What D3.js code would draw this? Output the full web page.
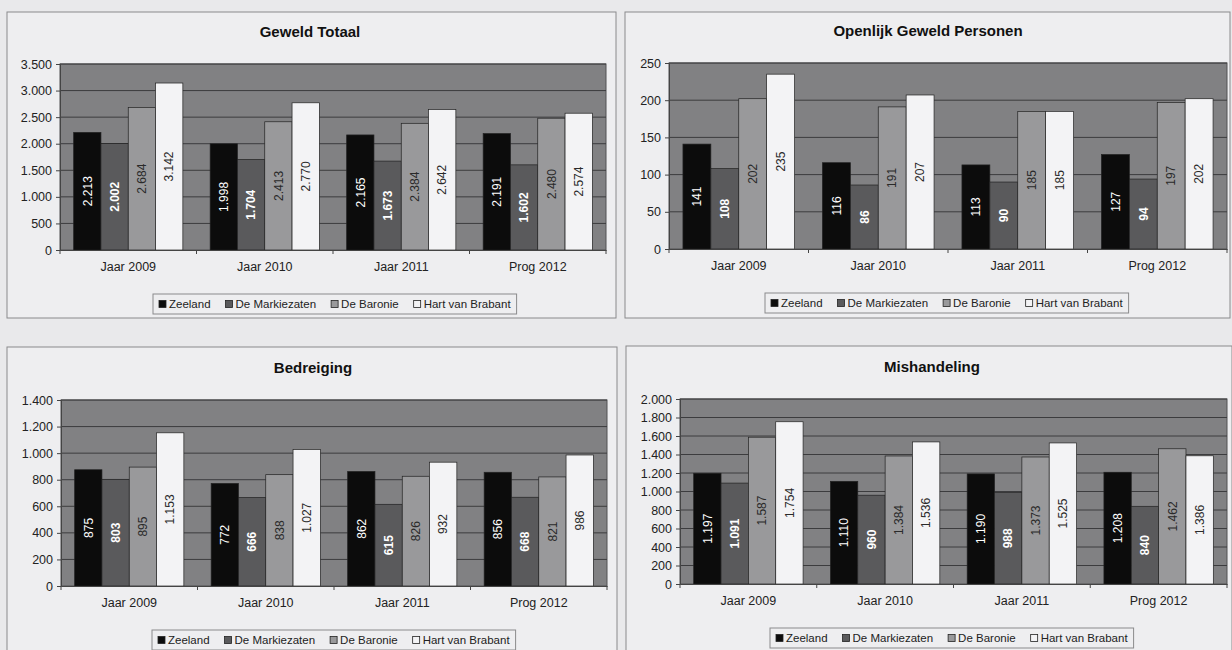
<!DOCTYPE html>
<html>
<head>
<meta charset="utf-8">
<script src="https://cdn.jsdelivr.net/npm/d3@7"></script>
<style>
  body { margin: 0; background: #e9e9eb; }
  svg { display: block; font-family: "Liberation Sans", Arial, sans-serif; }
</style>
</head>
<body>
<svg id="chart" width="1232" height="650"></svg>
<script>
// categories and series
const categories = ["Jaar 2009", "Jaar 2010", "Jaar 2011", "Prog 2012"];
const seriesNames = ["Zeeland", "De Markiezaten", "De Baronie", "Hart van Brabant"];

// one row per series (Zeeland, Markiezaten, Baronie, Hart van Brabant)
const geweldTotaal = [
    [2213, 1998, 2165, 2191],
    [2002, 1704, 1673, 1602],
    [2684, 2413, 2384, 2480],
    [3142, 2770, 2642, 2574]
];
const openlijkGeweld = [
    [141, 116, 113, 127],
    [108, 86, 90, 94],
    [202, 191, 185, 197],
    [235, 207, 185, 202]
];
const bedreiging = [
    [875, 772, 862, 856],
    [803, 666, 615, 668],
    [895, 838, 826, 821],
    [1153, 1027, 932, 986]
];
const mishandeling = [
    [1197, 1110, 1190, 1208],
    [1091, 960, 988, 840],
    [1587, 1384, 1373, 1462],
    [1754, 1536, 1525, 1386]
];

// y axis ticks
const ticksTotaal = [0, 500, 1000, 1500, 2000, 2500, 3000, 3500];
const ticksOpenlijk = [0, 50, 100, 150, 200, 250];
const ticksBedreiging = [0, 200, 400, 600, 800, 1000, 1200, 1400];
const ticksMishandeling = [0, 200, 400, 600, 800, 1000, 1200, 1400, 1600, 1800, 2000];

const barColors = ["#0c0c0c", "#5a5a5c", "#99999b", "#f3f3f5"];
const labelColors = ["#ffffff", "#ffffff", "#2a2a2a", "#2a2a2a"];
const labelWeights = ["normal", "bold", "normal", "normal"];

const nl = d3.formatLocale({ decimal: ",", thousands: ".", grouping: [3], currency: ["€", ""] });
const fmt = nl.format(",d");

const svg = d3.select("#chart");

function drawChart(title, values, ticks, box, plot, titleX, legendX) {
    const g = svg.append("g");

    // chart frame
    g.append("rect")
        .attr("x", box.x).attr("y", box.y)
        .attr("width", box.w).attr("height", box.h)
        .attr("fill", "#eeeef0")
        .attr("stroke", "#8a8a8c").attr("stroke-width", 1);

    g.append("text")
        .attr("x", titleX).attr("y", plot.t - 27)
        .attr("text-anchor", "middle")
        .style("font-size", "15px").style("font-weight", "bold")
        .attr("fill", "#111")
        .text(title);

    const x0 = d3.scaleBand().domain(categories).range([plot.l, plot.r]);
    const x1 = d3.scaleBand().domain(seriesNames).range([0, x0.bandwidth()]).paddingOuter(0.5);
    const y = d3.scaleLinear().domain([0, ticks[ticks.length - 1]]).range([plot.b, plot.t]);

    // plot area
    g.append("rect")
        .attr("x", plot.l).attr("y", plot.t)
        .attr("width", plot.r - plot.l).attr("height", plot.b - plot.t)
        .attr("fill", "#818183")
        .attr("stroke", "#505052");

    // gridlines
    g.selectAll(".grid")
        .data(ticks.slice(1))
        .enter().append("line")
        .attr("x1", plot.l).attr("x2", plot.r)
        .attr("y1", d => y(d)).attr("y2", d => y(d))
        .attr("stroke", "#3c3c3e").attr("stroke-width", 1);

    // y axis
    const yAxis = g.append("g")
        .attr("transform", `translate(${plot.l},0)`)
        .call(d3.axisLeft(y).tickValues(ticks).tickFormat(fmt).tickSize(4).tickPadding(4));
    yAxis.select(".domain").attr("stroke", "#444");
    yAxis.selectAll(".tick line").attr("stroke", "#444");
    yAxis.selectAll("text").style("font-size", "12.5px").attr("fill", "#222").attr("font-family", null);

    // bars
    const rows = categories.map((c, i) => ({ cat: c, vals: values.map(s => s[i]) }));
    const grp = g.selectAll(".cat")
        .data(rows)
        .enter().append("g")
        .attr("transform", d => `translate(${x0(d.cat)},0)`);

    grp.selectAll("rect")
        .data(d => d.vals.map((v, k) => ({ v: v, k: k })))
        .enter().append("rect")
        .attr("x", d => x1(seriesNames[d.k]))
        .attr("y", d => y(d.v))
        .attr("width", x1.bandwidth())
        .attr("height", d => y(0) - y(d.v))
        .attr("fill", d => barColors[d.k])
        .attr("stroke", "#222").attr("stroke-width", 0.7);

    grp.selectAll(".lbl")
        .data(d => d.vals.map((v, k) => ({ v: v, k: k })))
        .enter().append("text")
        .attr("transform", d => `translate(${x1(seriesNames[d.k]) + x1.bandwidth() / 2},${(y(d.v) + y(0)) / 2}) rotate(-90)`)
        .attr("text-anchor", "middle")
        .attr("dy", "0.35em")
        .style("font-size", "12px")
        .style("font-weight", d => labelWeights[d.k])
        .attr("fill", d => labelColors[d.k])
        .text(d => fmt(d.v));

    // x axis
    const xAxis = g.append("g")
        .attr("transform", `translate(0,${plot.b})`)
        .call(d3.axisBottom(x0).tickSize(0).tickPadding(12));
    xAxis.select(".domain").attr("stroke", "#444");
    xAxis.selectAll("text").style("font-size", "12.5px").attr("fill", "#222").attr("font-family", null);
    xAxis.selectAll(".sep")
        .data(d3.range(categories.length + 1))
        .enter().append("line")
        .attr("x1", i => plot.l + i * x0.step()).attr("x2", i => plot.l + i * x0.step())
        .attr("y1", 0).attr("y2", 4)
        .attr("stroke", "#444");

    // legend
    const leg = g.append("g");
    const ly = plot.b + 54;
    const legBox = leg.append("rect")
        .attr("y", ly - 10).attr("height", 20)
        .attr("fill", "#eeeef0").attr("stroke", "#8a8a8c");
    let cx = legendX + 6;
    seriesNames.forEach((name, k) => {
        leg.append("rect")
            .attr("x", cx).attr("y", ly - 3.5)
            .attr("width", 7).attr("height", 7)
            .attr("fill", barColors[k]).attr("stroke", "#222").attr("stroke-width", 0.8);
        const t = leg.append("text")
            .attr("x", cx + 10).attr("y", ly)
            .attr("dy", "0.35em")
            .style("font-size", "11.5px")
            .attr("fill", "#222")
            .text(name);
        cx += 10 + t.node().getComputedTextLength() + 15;
    });
    legBox.attr("x", legendX).attr("width", cx - legendX - 9);
}

drawChart("Geweld Totaal", geweldTotaal, ticksTotaal,
    { x: 7, y: 12, w: 609, h: 306 }, { l: 60, t: 64, r: 606, b: 250 }, 310, 153);
drawChart("Openlijk Geweld Personen", openlijkGeweld, ticksOpenlijk,
    { x: 625, y: 12, w: 605, h: 306 }, { l: 669, t: 63, r: 1227, b: 249 }, 928, 765);
drawChart("Bedreiging", bedreiging, ticksBedreiging,
    { x: 7, y: 347, w: 610, h: 310 }, { l: 61, t: 400, r: 607, b: 586 }, 313, 152);
drawChart("Mishandeling", mishandeling, ticksMishandeling,
    { x: 626, y: 346, w: 606, h: 310 }, { l: 680, t: 399, r: 1227, b: 584 }, 932, 770);
</script>
</body>
</html>
